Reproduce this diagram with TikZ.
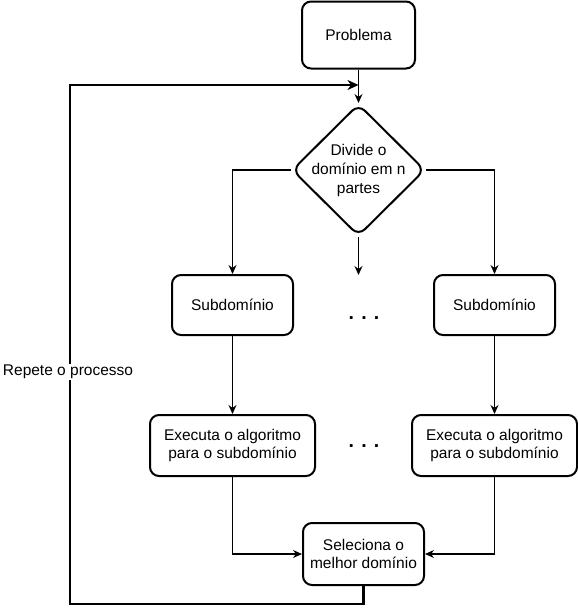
\documentclass[tikz,border=0pt]{standalone}
\usepackage{fontspec}
\setmainfont{Liberation Sans}
\usetikzlibrary{shapes.geometric,arrows.meta}
\begin{document}
\begin{tikzpicture}[x=1pt,y=-1pt,
  every node/.style={font=\fontsize{15.5}{18.5}\selectfont},
  box/.style={draw, line width=2pt, rounded corners=9pt, inner sep=0pt, align=center},
  decision/.style={draw, line width=2pt, diamond, rounded corners=9pt, inner sep=0pt,
    minimum width=133pt, minimum height=132pt},
  flow/.style={line width=1.2pt, -{Stealth[length=9pt,width=8pt,inset=3pt]}},
  loopline/.style={line width=2.6pt, -{Stealth[length=11pt,width=10pt,inset=3.5pt]}},
  ellipsis/.style={anchor=base, font=\fontsize{19.5}{20}\bfseries}
]
\useasboundingbox (0,0) rectangle (578,614);

% steps of the method
\node[box, minimum width=113pt, minimum height=67pt] (prob) at (358.5,35) {Problema};
\node[decision, label={[align=center, font=\fontsize{15.5}{19}\selectfont]center:Divide o\\dom\'inio em n\\partes}] (div) at (358.5,170) {};
\node[box, minimum width=121pt, minimum height=60pt] (sub1) at (232.5,305) {Subdom\'inio};
\node[box, minimum width=121pt, minimum height=60pt] (sub2) at (494.5,305) {Subdom\'inio};
\node[box, minimum width=165pt, minimum height=61pt] (exe1) at (232.5,445.5) {Executa o algoritmo\\para o subdom\'inio};
\node[box, minimum width=165pt, minimum height=61pt] (exe2) at (494.5,445.5) {Executa o algoritmo\\para o subdom\'inio};
\node[box, minimum width=121pt, minimum height=62pt] (sel) at (363.5,554) {Seleciona o\\melhor dom\'inio};

\node[ellipsis] (dots1) at (364,319) {. . .};
\node[ellipsis] (dots2) at (364,447) {. . .};

\coordinate (join) at (358.5,85);
\coordinate (more) at (358.5,275);

% connectors
\draw[flow] (prob.south) -- (div.north);
\draw[flow] (div.west) -| (sub1.north);
\draw[flow] (div.east) -| (sub2.north);
\draw[flow] (div.south) -- (more);
\draw[flow] (sub1.south) -- (exe1.north);
\draw[flow] (sub2.south) -- (exe2.north);
\draw[flow] (exe1.south) |- (sel.west);
\draw[flow] (exe2.south) |- (sel.east);

% feedback loop
\draw[loopline] (sel.south) -- (sel.south |- 0,604) -| (70,85) -- (join);
\node[fill=white, inner sep=1pt] (rep) at (68,372) {Repete o processo};
\end{tikzpicture}
\end{document}
